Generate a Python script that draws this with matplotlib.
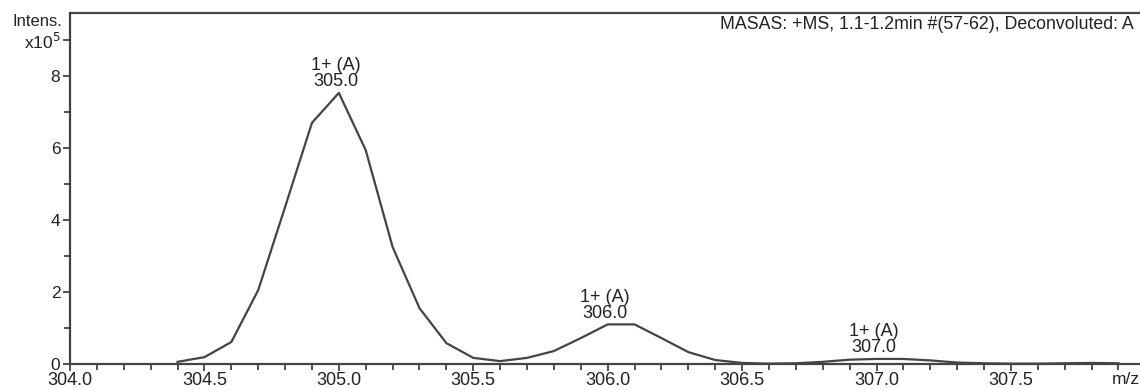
import matplotlib.pyplot as plt
from matplotlib.ticker import MultipleLocator, FixedLocator
import numpy as np

plt.rcParams['font.family'] = ['Liberation Sans', 'DejaVu Sans']

# espectro deconvolucionado (intensidad en unidades de 1e5)
mz = [304.4, 304.5, 304.6, 304.7, 304.8, 304.9, 305.0, 305.1, 305.2, 305.3,
      305.4, 305.5, 305.6, 305.7, 305.8, 305.9, 306.0, 306.1, 306.2, 306.3,
      306.4, 306.5, 306.6, 306.7, 306.8, 306.9, 307.0, 307.1, 307.2, 307.3,
      307.4, 307.5, 307.6, 307.7, 307.8, 307.9]
intens = [0.06, 0.19, 0.61, 2.05, 4.36, 6.7, 7.53, 5.94, 3.25, 1.55,
          0.58, 0.17, 0.08, 0.17, 0.36, 0.72, 1.1, 1.1, 0.72, 0.33,
          0.11, 0.03, 0.01, 0.02, 0.06, 0.12, 0.14, 0.14, 0.1, 0.04,
          0.02, 0.01, 0.01, 0.02, 0.03, 0.02]

peak_mz = [305.0, 306.0, 307.0]
peak_int = [7.53, 1.1, 0.14]
peak_lab = ['1+ (A)\n305.0', '1+ (A)\n306.0', '1+ (A)\n307.0']

ytick_pos = [0, 2, 4, 6, 8, 9]
ytick_lab = ['0', '2', '4', '6', '8', 'x10$^5$']
xtick_pos = [304.0, 304.5, 305.0, 305.5, 306.0, 306.5, 307.0, 307.5]

gray = '#444444'
txt = '#222222'

fig = plt.figure(figsize=(11.4, 3.9), dpi=100)
ax = fig.add_axes([70 / 1140, 26 / 390, 1070 / 1140, 351 / 390])

ax.plot(mz, intens, color=gray, lw=1.6)

for x, y, s in zip(peak_mz, peak_int, peak_lab):
    ax.annotate(s, (x, y), xytext=(-2, 2), textcoords='offset points',
                ha='center', va='bottom', fontsize=13, color=txt,
                linespacing=0.9)

ax.set_xlim(304.0, 307.98)
ax.set_ylim(0, 9.75)
ax.set_xticks(xtick_pos)
ax.set_xticklabels(['%.1f' % v for v in xtick_pos])
ax.xaxis.set_minor_locator(MultipleLocator(0.1))
ax.set_yticks(ytick_pos)
ax.set_yticklabels(ytick_lab)
ax.yaxis.set_minor_locator(FixedLocator([1, 3, 5, 7]))

ax.tick_params(which='both', direction='out', color=gray, width=1.3,
               labelsize=13, labelcolor=txt, pad=1)
ax.tick_params(which='major', length=5)
ax.tick_params(which='minor', length=4)
ax.tick_params(axis='y', labelsize=12.5, pad=2)

for side in ['left', 'top', 'bottom']:
    ax.spines[side].set_color(gray)
    ax.spines[side].set_linewidth(1.6)
ax.spines['right'].set_visible(False)

fig.text(62 / 1140, 1 - 22 / 390, 'Intens.', ha='right', va='center',
         fontsize=12, color=txt)
fig.text(1112 / 1140, 1 - 380 / 390, 'm/z', ha='left', va='center',
         fontsize=12.5, color=txt)
ax.text(0.6075, 0.966, 'MASAS: +MS, 1.1-1.2min #(57-62), Deconvoluted: A',
        transform=ax.transAxes, ha='left', va='center', fontsize=12.8,
        color=txt, clip_on=False)

fig.savefig('out.png', dpi=100)
